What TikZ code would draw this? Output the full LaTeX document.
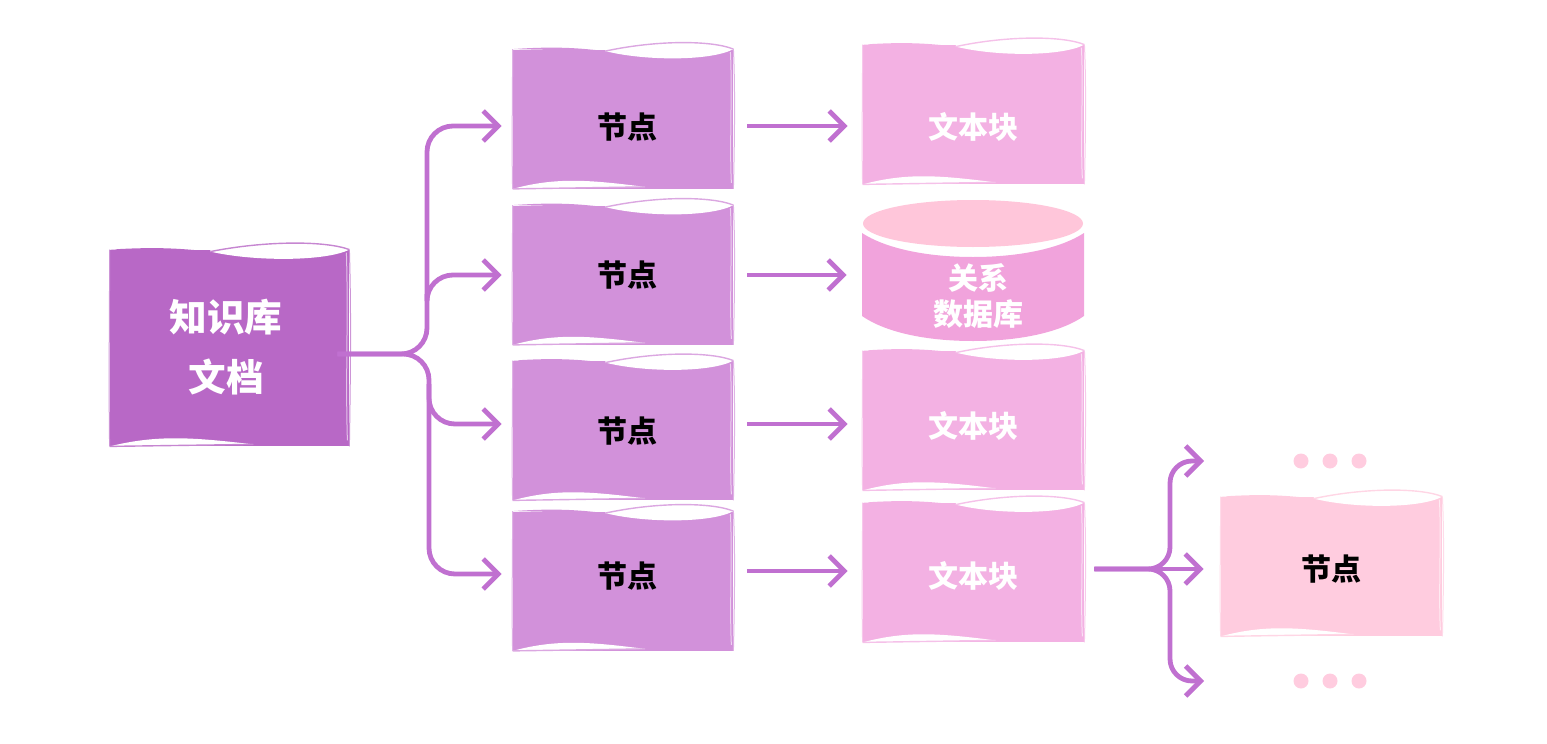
\documentclass[tikz,border=0pt]{standalone}
\usepackage{fontspec}
\newfontfamily\cjk{Noto Sans CJK SC}
\usetikzlibrary{arrows.meta, calc}
\definecolor{docC}{HTML}{B868C6}
\definecolor{nodeC}{HTML}{D291DA}
\definecolor{textC}{HTML}{F3B1E3}
\definecolor{baseC}{HTML}{F1A3DC}
\definecolor{topC}{HTML}{FFC6DA}
\definecolor{pinkC}{HTML}{FFCCDF}
\definecolor{flowC}{HTML}{C070D0}
\tikzstyle{sketch}=[rectangle, inner sep=0pt, minimum width=110.5pt, minimum height=69.5pt]
\tikzstyle{lblS}=[font=\cjk\bfseries\fontsize{15}{18}\selectfont, text=black, inner sep=0pt, align=center]
\tikzstyle{lblW}=[lblS, text=white]
\tikzstyle{lblL}=[lblW, font=\cjk\bfseries\fontsize{18.8}{22}\selectfont]
\tikzstyle{flow}=[draw=flowC, line width=2.4pt, rounded corners=13pt, -{Straight Barb[length=7.5pt, width=15pt]}]
\tikzstyle{dot}=[circle, fill=pinkC, inner sep=0pt, minimum size=7.5pt]

\begin{document}
\begin{tikzpicture}[x=0.5pt, y=-0.5pt]
	\useasboundingbox (0,0) rectangle (1547,744);

	% Boxes
	\node[sketch, fill=docC, minimum width=119.5pt, minimum height=98pt] (doc) at (229.5,348) {};
	\node[sketch, fill=nodeC, minimum width=110pt] (n1) at (623,119) {};
	\node[sketch, fill=nodeC, minimum width=110pt] (n2) at (623,275) {};
	\node[sketch, fill=nodeC, minimum width=110pt] (n3) at (623,430.5) {};
	\node[sketch, fill=nodeC, minimum width=110pt] (n4) at (623,581) {};
	\node[sketch, fill=textC] (t1) at (973.5,114.5) {};
	\node[sketch, fill=textC] (t3) at (973.5,420.5) {};
	\node[sketch, fill=textC] (t4) at (973.5,572.5) {};
	\node[sketch, fill=pinkC] (leaf) at (1331.5,566.5) {};

	% Hand drawn edges of the boxes
	\foreach \n/\col in {doc/docC, n1/nodeC, n2/nodeC, n3/nodeC, n4/nodeC, t1/textC, t3/textC, t4/textC, leaf/pinkC}{
		\coordinate (tl) at ($(\n.north west)!.42!(\n.north east)+(0,2)$);
		\coordinate (bl) at ($(\n.south west)!.6!(\n.south east)+(0,-2)$);
		\fill[\col] (\n.north west) .. controls ($(\n.north west)!.2!(\n.north east)+(0,-3)$) and ($(\n.north west)!.3!(\n.north east)+(0,-1)$) .. (tl) -- cycle;
		\fill[white] (tl) .. controls ($(\n.north west)!.6!(\n.north east)+(0,12)$) and ($(\n.north west)!.9!(\n.north east)+(0,12)$) .. (\n.north east) -- ($(\n.north east)+(0,-1)$) -- ($(tl)+(0,-3)$) -- cycle;
		\draw[\col!80!white, line width=.7pt] (tl) .. controls ($(\n.north west)!.65!(\n.north east)+(0,-9)$) and ($(\n.north west)!.9!(\n.north east)+(0,-9)$) .. (\n.north east);
		\fill[white] (\n.south west) .. controls ($(\n.south west)!.2!(\n.south east)+(0,-12)$) and ($(\n.south west)!.35!(\n.south east)+(0,-9)$) .. (bl) -- cycle;
		\draw[\col!80!white, line width=.7pt] (\n.south west) -- (bl);
		\draw[white!60!\col, line width=.5pt] ($(\n.north east)+(-3,3)$) .. controls ($(\n.east)+(-1,-30)$) and ($(\n.east)+(-4,30)$) .. ($(\n.south east)+(-2,-6)$);
		\draw[\col!70!white, line width=.5pt] (\n.north east) .. controls ($(\n.east)+(2,-30)$) and ($(\n.east)+(1,30)$) .. (\n.south east);
		\draw[\col!70!white, line width=.5pt] (\n.north west) .. controls ($(\n.west)+(0,-30)$) and ($(\n.west)+(-1,30)$) .. (\n.south west);
	}

	% Relational database
	\node[sketch, minimum width=111pt, minimum height=70.5pt] (db) at (973,270) {};
	\fill[baseC] (862,233) .. controls (885,248) and (925,257) .. (973,257) .. controls (1021,257) and (1061,248) .. (1084,233)
		-- (1084,316) .. controls (1061,332) and (1021,341) .. (973,341) .. controls (925,341) and (885,332) .. (862,316) -- cycle;
	\fill[topC] (973,223.5) ellipse [x radius=110, y radius=23.5];

	% Labels
	\node[lblL] (docLbl) at (226,347) {知识库\\[8pt]文档};
	\node[lblS] (n1Lbl) at (627,127) {节点};
	\node[lblS] (n2Lbl) at (627,275) {节点};
	\node[lblS] (n3Lbl) at (627,431) {节点};
	\node[lblS] (n4Lbl) at (627,576) {节点};
	\node[lblW] (t1Lbl) at (973.5,127) {文本块};
	\node[lblW] (dbLbl) at (978,296) {关系\\数据库};
	\node[lblW] (t3Lbl) at (973.5,426) {文本块};
	\node[lblW] (t4Lbl) at (973.5,576) {文本块};
	\node[lblS] (leafLbl) at (1331,569) {节点};

	% Dots
	\foreach \x/\name in {1301/a, 1330/b, 1359/c}{
		\node[dot] (up\name) at (\x,461) {};
		\node[dot] (down\name) at (\x,681) {};
	}

	% Rows of the arrows
	\coordinate (r1) at (0,126);
	\coordinate (r2) at (0,275);
	\coordinate (r3) at (0,424);
	\coordinate (r4) at (0,574);
	\coordinate (r5) at (0,571);

	% Tree of the document
	\coordinate (fork) at (427,354);
	\coordinate (fork2) at (429,354);
	\draw[flow] ($(doc.east)+(-12,6)$) -- (fork) -- (fork |- r1) -- ($(n1.west |- r1)+(-11,0)$);
	\draw[flow] ($(doc.east)+(-12,6)$) -- (fork2) -- (fork2 |- r4) -- ($(n4.west |- r4)+(-11,0)$);
	\draw[flow] ($(fork)+(0,-60)$) -- (fork |- r2) -- ($(n2.west |- r2)+(-11,0)$);
	\draw[flow] ($(fork2)+(0,30)$) -- (fork2 |- r3) -- ($(n3.west |- r3)+(-11,0)$);

	% Node to text block
	\foreach \a/\b/\r in {n1/t1/r1, n2/db/r2, n3/t3/r3, n4/t4/r5}{
		\draw[flow] ($(\a.east |- \r)+(14,0)$) -- ($(\b.west |- \r)+(-15,0)$);
	}

	% Tree of the text block
	\coordinate (fork3) at (1170,569);
	\draw[flow, rounded corners=11pt] ($(t4.east |- fork3)+(10,0)$) -- (fork3) -- (fork3 |- upa) -- ($(upa)+(-97,0)$);
	\draw[flow, rounded corners=11pt] ($(t4.east |- fork3)+(10,0)$) -- (fork3) -- (fork3 |- downa) -- ($(downa)+(-97,0)$);
	\draw[flow] ($(t4.east |- fork3)+(10,0)$) -- ($(leaf.west |- fork3)+(-17,0)$);
\end{tikzpicture}
\end{document}
